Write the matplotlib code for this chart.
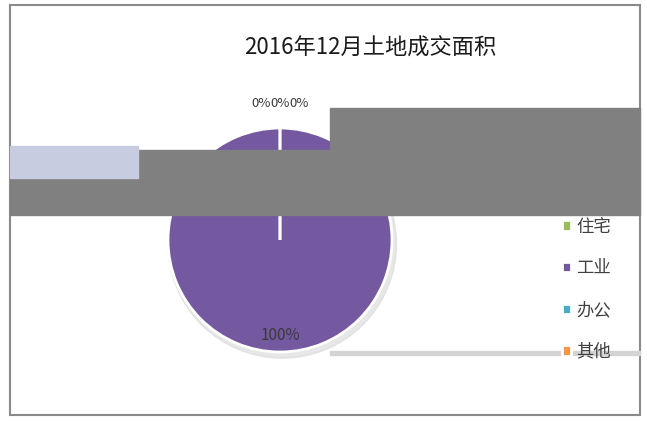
import matplotlib
matplotlib.use("Agg")
import matplotlib.pyplot as plt
from matplotlib.patches import Rectangle

plt.rcParams['font.family'] = ['Noto Sans CJK SC', 'DejaVu Sans']

title = "2016年12月土地成交面积"
categories = ["住宅", "工业", "办公", "其他"]
values = [0, 100, 0, 0]
colors = ["#9BBB59", "#7458A0", "#4BACC6", "#F79646"]

W, H = 647, 423
fig = plt.figure(figsize=(W / 100, H / 100), dpi=100)
fig.patch.set_facecolor("white")

# outer chart frame
fig.add_artist(Rectangle((10 / W, 1 - 415 / H), 630 / W, 410 / H, transform=fig.transFigure,
                         fill=False, edgecolor="#8a8a8a", linewidth=1.5))

fig.text(370 / W, 1 - 48 / H, title, ha="center", va="center", fontsize=16, color="#1a1a1a")

cx, cy, r = 280, 240, 112
ax = fig.add_axes([(cx - r) / W, (H - cy - r) / H, 2 * r / W, 2 * r / H])
ax.set_aspect("equal")

# soft shadow
shadow = plt.Circle((0.02, -0.035), 1.02, color="#d8d8d8", alpha=0.6, zorder=0)
ax.add_patch(shadow)

wedges, texts, autotexts = ax.pie(values, colors=colors, startangle=90, counterclock=False,
                                  autopct="%.0f%%", pctdistance=0.85,
                                  wedgeprops=dict(edgecolor="white", linewidth=2),
                                  textprops=dict(fontsize=11, color="#3a3a3a"))
k = 0
for v, t in zip(values, autotexts):
    if v == 0:
        x, y = t.get_position()
        t.set_position((x - 0.17 + 0.17 * k, y * 1.22 / 0.85))
        t.set_fontsize(9.5)
        k += 1
ax.set_xlim(-1.1, 1.1)
ax.set_ylim(-1.1, 1.1)
ax.set_position([(cx - 1.1 * r) / W, (H - cy - 1.1 * r) / H, 2.2 * r / W, 2.2 * r / H])
ax.axis("off")

leg = fig.legend(wedges, categories, loc="upper left", bbox_to_anchor=(553 / W, 1 - 209 / H),
                 frameon=False, fontsize=12.5, handlelength=0.55, handleheight=0.55,
                 handletextpad=0.3, labelspacing=1.36, borderpad=0)
leg.set_zorder(6)
for t in leg.get_texts():
    t.set_color("#404040")

# gray occluding boxes seen in the reference
fig.add_artist(Rectangle((330 / W, 1 - 215 / H), 310 / W, 107 / H, transform=fig.transFigure,
                         color="#808080", zorder=10))
fig.add_artist(Rectangle((10 / W, 1 - 215 / H), 320 / W, 65 / H, transform=fig.transFigure,
                         color="#808080", zorder=10))
fig.add_artist(Rectangle((10 / W, 1 - 178 / H), 128 / W, 32 / H, transform=fig.transFigure,
                         color="#c8cce0", zorder=11))
fig.add_artist(Rectangle((330 / W, 1 - 355 / H), 310 / W, 4 / H, transform=fig.transFigure,
                         color="#d4d4d4", zorder=4))

fig.savefig("out.png", dpi=100)
